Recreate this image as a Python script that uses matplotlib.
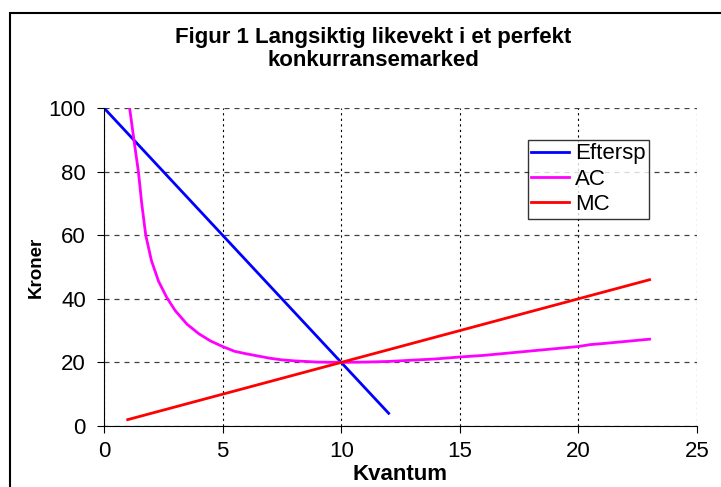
import matplotlib
matplotlib.use('Agg')
import matplotlib.pyplot as plt
from matplotlib.patches import Rectangle

plt.rcParams.update({'font.family': ['Liberation Sans', 'DejaVu Sans'], 'font.size': 16})

# data
q_eftersp = [0, 1, 2, 3, 4, 5, 6, 7, 8, 9, 10, 11, 12]
eftersp = [100, 92, 84, 76, 68, 60, 52, 44, 36, 28, 20, 12, 4]

q_ac = [1.08, 1.28, 1.45, 1.59, 1.76, 2.0, 2.3, 2.64, 3.0, 3.5, 4.0, 4.5, 5.0, 5.5,
        6.0, 7.0, 7.5, 8, 9, 10, 11, 12, 13, 14, 15, 16, 17, 18, 19, 20, 20.5,
        21, 22, 23]
ac = [100, 89, 80, 70, 60, 52, 45.5, 40.5, 36.3, 32, 29, 26.7, 25, 23.5,
      22.7, 21.3, 20.8, 20.5, 20.1, 20, 20.1, 20.3, 20.7, 21.1, 21.7, 22.2, 22.9,
      23.6, 24.3, 25, 25.6, 25.9, 26.6, 27.3]

q_mc = [1, 5, 10, 15, 20, 23]
mc = [2, 10, 20, 30, 40, 46]

fig = plt.figure(figsize=(7.21, 4.87), dpi=100)
ax = fig.add_axes([104/721, 1 - 426/487, (697-104)/721, (426-108)/487])

ax.plot(q_eftersp, eftersp, color='#0000FF', lw=2, label='Eftersp')
ax.plot(q_ac, ac, color='#FF00FF', lw=2, label='AC')
ax.plot(q_mc, mc, color='#FF0000', lw=2, label='MC')

ax.set_xlim(0, 25)
ax.set_ylim(0, 100)
ax.set_xticks([0, 5, 10, 15, 20, 25])
ax.set_yticks([0, 20, 40, 60, 80, 100])
# Excel style grid: grey dashes across, black dots down
ax.yaxis.grid(True, color='#404040', linestyle=(0, (4, 4)), lw=0.9)
ax.xaxis.grid(True, color='black', linestyle=(0, (2, 3)), lw=0.8)
ax.set_axisbelow(True)
for s in ['top', 'right']:
    ax.spines[s].set_visible(False)
ax.tick_params(direction='out', length=5, labelsize=16)
ax.tick_params(axis='x', pad=6)
ax.tick_params(axis='y', pad=8)

ax.set_xlabel('Kvantum', fontsize=16, fontweight='bold', labelpad=1)
ax.set_ylabel('Kroner', fontsize=13.5, fontweight='bold', labelpad=3)

leg = ax.legend(loc='upper left', bbox_to_anchor=((528-104)/593, (426-140)/318),
                borderaxespad=0, frameon=True, fancybox=False, edgecolor='black',
                fontsize=16, handlelength=1.7, borderpad=0.15, labelspacing=0.2,
                handletextpad=0.25)
leg.get_frame().set_linewidth(1)

fig.text(373/721, 1 - 38/487, 'Figur 1 Langsiktig likevekt i et perfekt',
         ha='center', va='center', fontsize=16, fontweight='bold')
fig.text(373/721, 1 - 60/487, 'konkurransemarked',
         ha='center', va='center', fontsize=16, fontweight='bold')

# outer chart frame
fig.patches.append(Rectangle((10/721, -0.1), 2, 1 - 13/487 + 0.1, transform=fig.transFigure,
                             fill=False, edgecolor='black', lw=1.5))

fig.savefig('out.png', dpi=100)
